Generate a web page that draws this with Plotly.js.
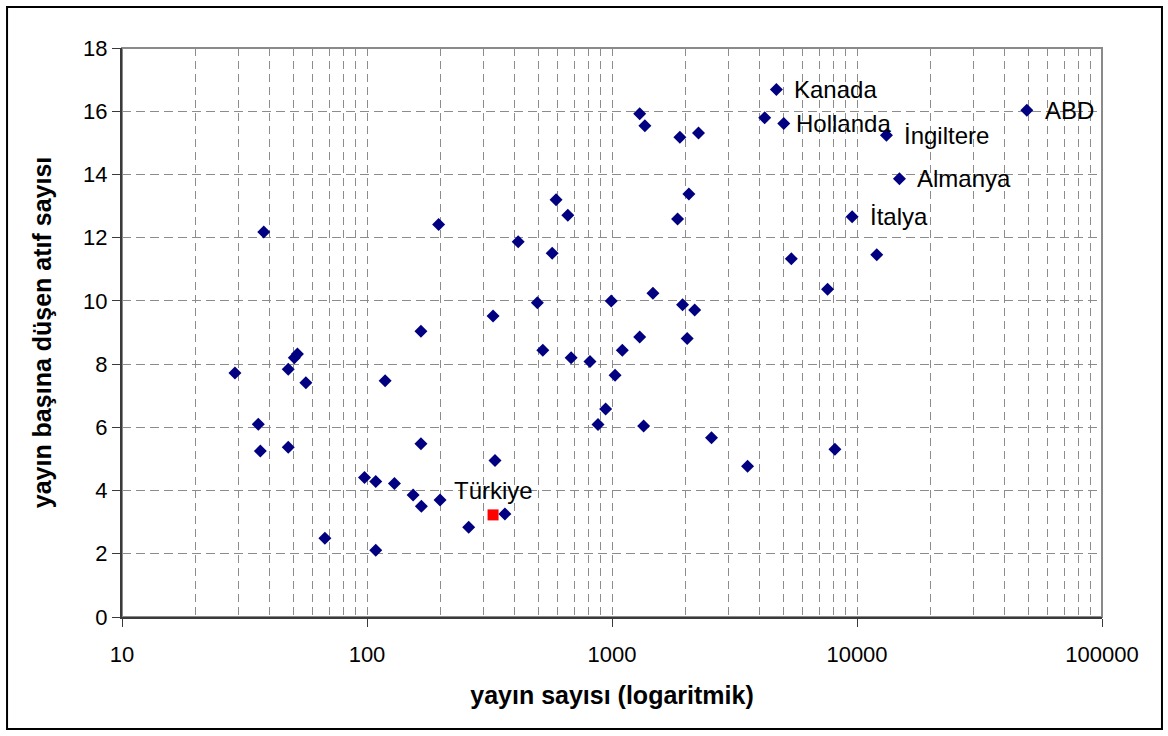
<!DOCTYPE html>
<html><head><meta charset="utf-8">
<script src="https://cdn.plot.ly/plotly-3.0.1.min.js"></script>
<style>html,body{margin:0;padding:0;background:#fff;} #chart{width:1168px;height:736px;}</style>
</head><body><div id="chart"></div>
<script>
// ---- data ----
const countryLabels = ['', '', '', '', '', '', '', '', '', '',
  '', '', '', '', '', '', '', '', '', '',
  '', '', '', '', '', '', '', '', '', '',
  '', '', '', '', '', '', '', '', '', '',
  '', '', '', '', '', '', '', '', '', '',
  '', '', '', 'Kanada', 'Hollanda', '', '', '', 'İtalya', '',
  'İngiltere', 'Almanya', 'ABD'];
const publications = [28.9, 37.9, 36.0, 36.7, 47.7, 47.7, 50.5, 52.0, 56.3, 67.3,
  97.7, 108.6, 108.6, 118.6, 129.4, 154.3, 166.7, 166, 166, 196,
  198.7, 260, 327, 333, 365.5, 414, 496, 522, 570, 591,
  660, 681, 813, 877, 942, 993, 1029, 1102, 1297, 1297,
  1346, 1362, 1469, 1852, 1892, 1941, 2027, 2060, 2175, 2255,
  2547, 3575, 4200, 4688, 5025, 5395, 7585, 8125, 9553, 12040,
  13190, 14900, 49330];
const citationsPerPaper = [7.72, 12.18, 6.10, 5.25, 7.84, 5.37, 8.20, 8.32, 7.41, 2.49,
  4.41, 4.29, 2.11, 7.47, 4.22, 3.86, 3.50, 9.04, 5.48, 12.42,
  3.70, 2.84, 9.52, 4.95, 3.26, 11.87, 9.94, 8.44, 11.51, 13.20,
  12.71, 8.20, 8.08, 6.09, 6.58, 10.0, 7.65, 8.44, 15.92, 8.86,
  6.04, 15.54, 10.24, 12.59, 15.18, 9.88, 8.81, 13.38, 9.71, 15.31,
  5.67, 4.77, 15.79, 16.69, 15.61, 11.33, 10.37, 5.31, 12.66, 11.46,
  15.24, 13.86, 16.03];
const turkeyLabel = ['Türkiye'];
const turkeyPublications = [327];
const turkeyCitations = [3.23];
const xTitle = 'yayın sayısı (logaritmik)';
const yTitle = 'yayın başına düşen atıf sayısı';

// ---- styles ----
const FONT = 'Liberation Sans, Arial, sans-serif';
const GRID = '#8c8c8c';
const labelShift = {'Hollanda': 10};

const traces = [
  {type: 'scatter', mode: 'markers', x: publications, y: citationsPerPaper,
   marker: {symbol: 'diamond', size: 10, color: '#000080'}, hoverinfo: 'x+y', cliponaxis: false},
  {type: 'scatter', mode: 'markers', x: turkeyPublications, y: turkeyCitations,
   marker: {symbol: 'square', size: 11, color: '#ff0000'}, hoverinfo: 'x+y', cliponaxis: false}
];

const annotations = [];
countryLabels.forEach((lab, i) => {
  if (!lab) return;
  annotations.push({x: Math.log10(publications[i]), y: citationsPerPaper[i], xref: 'x', yref: 'y',
    text: lab, showarrow: false, xanchor: 'left', yanchor: 'middle',
    xshift: labelShift[lab] !== undefined ? labelShift[lab] : 16,
    font: {family: FONT, size: 24, color: '#000'}});
});
turkeyLabel.forEach((lab, i) => {
  annotations.push({x: Math.log10(turkeyPublications[i]), y: turkeyCitations[i], xref: 'x', yref: 'y',
    text: lab, showarrow: false, xanchor: 'center', yanchor: 'bottom', yshift: 9,
    font: {family: FONT, size: 24, color: '#000'}});
});

const layout = {
  width: 1168, height: 736,
  margin: {l: 122, r: 66, t: 48, b: 119},
  paper_bgcolor: '#fff', plot_bgcolor: '#fff',
  showlegend: false,
  font: {family: FONT, size: 22, color: '#000'},
  xaxis: {
    type: 'log', range: [1, 5], tickmode: 'linear', tick0: 0, dtick: 1,
    tickformat: 'd', exponentformat: 'none', showexponent: 'none',
    showgrid: true, gridcolor: GRID, gridwidth: 1, griddash: '8px,5px',
    minor: {dtick: 'D1', showgrid: true, gridcolor: GRID, gridwidth: 1, griddash: '8px,5px', ticks: ''},
    showline: true, linecolor: '#3a3a3a', linewidth: 2,
    ticks: 'outside', ticklen: 8, tickcolor: '#3a3a3a', tickwidth: 1,
    ticklabelstandoff: 9,
    tickfont: {family: FONT, size: 22, color: '#000'},
    zeroline: false,
    title: {text: xTitle, font: {family: FONT, size: 25, color: '#000', weight: 'bold'}, standoff: 20}
  },
  yaxis: {
    range: [0, 18], dtick: 2, tick0: 0,
    showgrid: true, gridcolor: GRID, gridwidth: 1, griddash: '9px,5px',
    showline: true, linecolor: '#3a3a3a', linewidth: 2,
    ticks: 'outside', ticklen: 8, tickcolor: '#3a3a3a', tickwidth: 1,
    tickfont: {family: FONT, size: 22, color: '#000'},
    zeroline: false,
    title: {text: yTitle, font: {family: FONT, size: 25, color: '#000', weight: 'bold'}, standoff: 24}
  },
  shapes: [
    {type: 'rect', xref: 'paper', yref: 'paper', x0: 0, x1: 1, y0: 0, y1: 1,
     line: {color: '#8a8a8a', width: 2}, layer: 'below'},
    {type: 'rect', xref: 'paper', yref: 'paper', x0: -0.1173, x1: 1.0612, y0: -0.1968, y1: 1.072,
     line: {color: '#000', width: 2}, layer: 'below'}
  ],
  annotations: annotations
};

Plotly.newPlot('chart', traces, layout, {displayModeBar: false, staticPlot: true});
</script>
</body></html>
